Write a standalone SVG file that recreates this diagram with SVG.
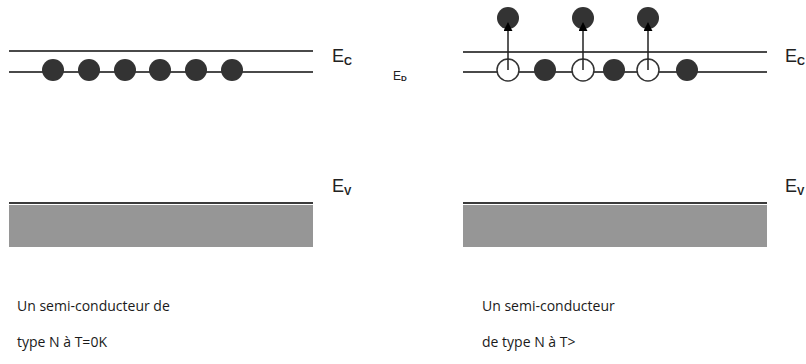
<svg xmlns="http://www.w3.org/2000/svg" width="806" height="364" viewBox="0 0 806 364">
  <defs>
    <style>
      .band { stroke: #4a4a4a; stroke-width: 2; fill: none; }
      .vtop { stroke: #3a3a3a; stroke-width: 2; }
      .vfill { fill: #969696; }
      .e { fill: #333333; }
      .hole { fill: #ffffff; stroke: #333333; stroke-width: 1.5; }
      .jump { stroke: #222222; stroke-width: 1.5; fill: none; }
      .lbl { font-family: "Liberation Sans", Arial, sans-serif; font-size: 18px; fill: #222222; }
      .sub { font-size: 11px; font-weight: bold; }
      .cap { font-family: "Open Sans", "Liberation Sans", sans-serif; font-size: 14px; fill: #1a1a1a; }
    </style>
    <marker id="arrow" viewBox="0 0 10 10" refX="9" refY="5" markerWidth="6" markerHeight="6" orient="auto">
      <path d="M0,0 L10,5 L0,10 z" fill="#000000"/>
    </marker>
  </defs>

  <!-- Left panel: N-type at T = 0 K -->
  <g id="left-conduction">
    <line class="band" x1="9" y1="51" x2="313" y2="51"/>
    <line class="band" x1="9" y1="72" x2="313" y2="72"/>
    <circle class="e" cx="53" cy="70" r="11"/>
    <circle class="e" cx="89" cy="70" r="11"/>
    <circle class="e" cx="125" cy="70" r="11"/>
    <circle class="e" cx="160" cy="70" r="11"/>
    <circle class="e" cx="196" cy="70" r="11"/>
    <circle class="e" cx="232" cy="70" r="11"/>
  </g>
  <g id="left-valence">
    <rect class="vfill" x="9" y="205" width="304" height="42"/>
    <line class="vtop" x1="9" y1="203" x2="313" y2="203"/>
  </g>
  <g id="left-labels">
    <text class="lbl" x="332" y="62">E<tspan class="sub" dy="3">C</tspan></text>
    <text class="lbl" x="332" y="192">E<tspan class="sub" dy="3">V</tspan></text>
    <text class="lbl" x="393" y="80" style="font-size:12px">E<tspan style="font-size:8px;font-weight:bold" dy="1">D</tspan></text>
    <text class="cap" x="17" y="311">Un semi-conducteur de</text>
    <text class="cap" x="17" y="347">type N à T=0K</text>
  </g>

  <!-- Right panel: N-type at T > 0 -->
  <g id="right-conduction">
    <line class="band" x1="463" y1="52" x2="767" y2="52"/>
    <line class="band" x1="463" y1="72" x2="767" y2="72"/>
    <circle class="hole" cx="508" cy="70" r="11"/>
    <circle class="e" cx="545" cy="70" r="11"/>
    <circle class="hole" cx="583" cy="70" r="11"/>
    <circle class="e" cx="614" cy="70" r="11"/>
    <circle class="hole" cx="648" cy="70" r="11"/>
    <circle class="e" cx="687" cy="70" r="11"/>
    <circle class="e" cx="508" cy="18" r="11"/>
    <circle class="e" cx="583" cy="18" r="11"/>
    <circle class="e" cx="648" cy="18" r="11"/>
  </g>
  <g id="connectors">
    <line class="jump" x1="508" y1="70" x2="508" y2="23" marker-end="url(#arrow)"/>
    <line class="jump" x1="583" y1="70" x2="583" y2="23" marker-end="url(#arrow)"/>
    <line class="jump" x1="648" y1="70" x2="648" y2="23" marker-end="url(#arrow)"/>
  </g>
  <g id="right-valence">
    <rect class="vfill" x="463" y="205" width="304" height="42"/>
    <line class="vtop" x1="463" y1="203" x2="767" y2="203"/>
  </g>
  <g id="right-labels">
    <text class="lbl" x="785" y="62">E<tspan class="sub" dy="3">C</tspan></text>
    <text class="lbl" x="785" y="192">E<tspan class="sub" dy="3">V</tspan></text>
    <text class="cap" x="482" y="311">Un semi-conducteur</text>
    <text class="cap" x="482" y="347">de type N à T&gt;</text>
  </g>
</svg>
